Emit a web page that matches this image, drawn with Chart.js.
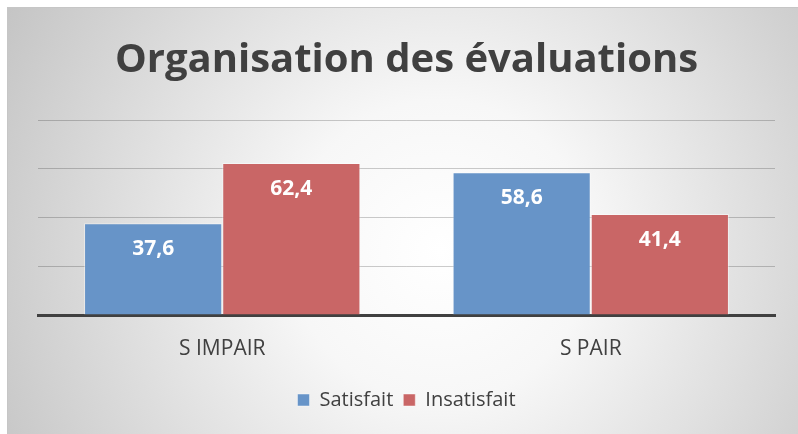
<!DOCTYPE html>
<html>
<head>
<meta charset="utf-8">
<script src="https://cdn.jsdelivr.net/npm/chart.js@4/dist/chart.umd.min.js"></script>
<style>
  html, body { margin: 0; padding: 0; background: #ffffff; }
  #wrap { position: relative; width: 798px; height: 434px; }
</style>
</head>
<body>
<div id="wrap"><canvas id="chart"></canvas></div>
<script>
const categories = ['S IMPAIR', 'S PAIR'];
const satisfait = [37.6, 58.6];
const insatisfait = [62.4, 41.4];
const yTicks = [0, 20, 40, 60, 80];

const FONT = "'Open Sans', 'Liberation Sans', sans-serif";

// gray radial background + frame, like the office export
const backdrop = {
  id: 'backdrop',
  beforeDraw(chart) {
    const { ctx, width, height } = chart;
    ctx.save();
    ctx.fillStyle = '#ffffff';
    ctx.fillRect(0, 0, width, height);
    const g = ctx.createRadialGradient(440, 250, 0, 440, 250, 500);
    g.addColorStop(0, '#ffffff');
    g.addColorStop(0.3, '#f7f7f7');
    g.addColorStop(1, '#c4c4c4');
    ctx.fillStyle = g;
    ctx.fillRect(7, 7, width - 7, height - 7);
    ctx.strokeStyle = '#c6c6c6';
    ctx.lineWidth = 1;
    ctx.strokeRect(7.5, 7.5, width, height);
    ctx.restore();
  }
};

// value labels inside top of each bar
const barValues = {
  id: 'barValues',
  afterDatasetsDraw(chart) {
    const { ctx } = chart;
    ctx.save();
    ctx.font = "bold 21px " + FONT;
    ctx.fillStyle = '#ffffff';
    ctx.textAlign = 'center';
    ctx.textBaseline = 'middle';
    chart.data.datasets.forEach((ds, i) => {
      chart.getDatasetMeta(i).data.forEach((bar, j) => {
        const txt = ds.data[j].toFixed(1).replace('.', ',');
        ctx.fillText(txt, bar.x, bar.y + 26);
      });
    });
    ctx.restore();
  }
};

new Chart(document.getElementById('chart'), {
  type: 'bar',
  data: {
    labels: categories,
    datasets: [
      {
        label: 'Satisfait',
        data: satisfait,
        backgroundColor: '#6794c8',
        borderColor: 'rgba(255,255,255,0.45)',
        borderWidth: 1
      },
      {
        label: 'Insatisfait',
        data: insatisfait,
        backgroundColor: '#c96666',
        borderColor: 'rgba(255,255,255,0.45)',
        borderWidth: 1
      }
    ]
  },
  options: {
    responsive: true,
    maintainAspectRatio: false,
    animation: false,
    datasets: {
      bar: { categoryPercentage: 0.75, barPercentage: 1.0 }
    },
    layout: { padding: { left: 38, right: 23, top: 10, bottom: 14 } },
    plugins: {
      title: {
        display: true,
        text: 'Organisation des évaluations',
        color: '#404040',
        font: { family: FONT, size: 40, weight: 'bold' },
        padding: { top: 27, bottom: 35 }
      },
      legend: {
        position: 'bottom',
        labels: {
          color: '#404040',
          font: { family: FONT, size: 20 },
          boxWidth: 12,
          boxHeight: 12,
          padding: 10
        }
      },
      tooltip: { enabled: false }
    },
    scales: {
      x: {
        grid: { display: false },
        border: { display: true, color: '#404040', width: 3 },
        ticks: { color: '#404040', font: { family: FONT, size: 21 }, padding: 13 },
        afterFit(scale) { scale.height = 65; }
      },
      y: {
        min: yTicks[0],
        max: yTicks[yTicks.length - 1],
        z: 1,
        afterBuildTicks(scale) { scale.ticks = yTicks.map(v => ({ value: v })); },
        ticks: { display: false },
        grid: { color: 'rgba(0,0,0,0.2)', lineWidth: 1, drawTicks: false },
        border: { display: false },
        afterFit(scale) { scale.width = 0; }
      }
    }
  },
  plugins: [backdrop, barValues]
});
</script>
</body>
</html>
